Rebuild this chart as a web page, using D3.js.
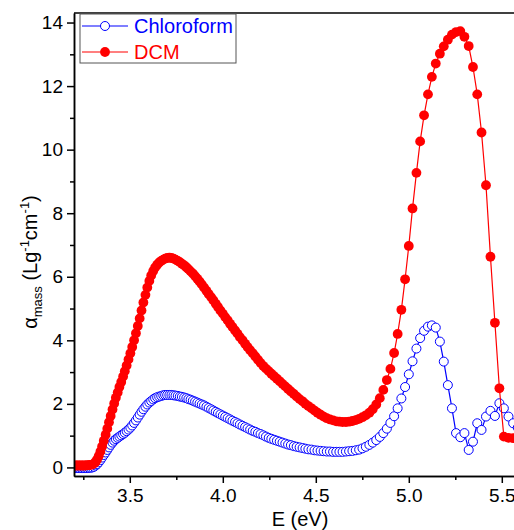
<!DOCTYPE html>
<html>
<head>
<meta charset="utf-8">
<script src="https://cdn.jsdelivr.net/npm/d3@7"></script>
<style>
  html, body { margin: 0; padding: 0; background: #fff; }
  svg { display: block; font-family: "Liberation Sans", Arial, sans-serif; }
</style>
</head>
<body>
<svg class="absorption-chart" width="514" height="530"></svg>
<script>
// photon energy (eV), one point per nm
var energy = [
  3.196, 3.204, 3.212, 3.221, 3.229, 3.238, 3.246, 3.255, 3.263, 3.272,
  3.280, 3.289, 3.298, 3.307, 3.316, 3.324, 3.333, 3.342, 3.351, 3.360,
  3.370, 3.379, 3.388, 3.397, 3.407, 3.416, 3.425, 3.435, 3.444, 3.454,
  3.464, 3.473, 3.483, 3.493, 3.503, 3.513, 3.523, 3.533, 3.543, 3.553,
  3.563, 3.573, 3.584, 3.594, 3.605, 3.615, 3.626, 3.636, 3.647, 3.658,
  3.669, 3.680, 3.690, 3.701, 3.713, 3.724, 3.735, 3.746, 3.758, 3.769,
  3.780, 3.792, 3.804, 3.815, 3.827, 3.839, 3.851, 3.863, 3.875, 3.887,
  3.899, 3.912, 3.924, 3.937, 3.949, 3.962, 3.974, 3.987, 4.000, 4.013,
  4.026, 4.039, 4.052, 4.066, 4.079, 4.092, 4.106, 4.120, 4.133, 4.147,
  4.161, 4.175, 4.189, 4.203, 4.218, 4.232, 4.247, 4.261, 4.276, 4.291,
  4.306, 4.321, 4.336, 4.351, 4.366, 4.382, 4.397, 4.413, 4.429, 4.444,
  4.460, 4.477, 4.493, 4.509, 4.526, 4.542, 4.559, 4.576, 4.593, 4.610,
  4.627, 4.644, 4.662, 4.679, 4.697, 4.715, 4.733, 4.751, 4.769, 4.788,
  4.806, 4.825, 4.844, 4.863, 4.882, 4.901, 4.921, 4.940, 4.960, 4.980,
  5.000, 5.020, 5.041, 5.061, 5.082, 5.103, 5.124, 5.145, 5.167, 5.188,
  5.210, 5.232, 5.254, 5.277, 5.299, 5.322, 5.345, 5.368, 5.391, 5.415,
  5.439, 5.463, 5.487, 5.511, 5.536, 5.561, 5.586
];

var chloroform = [
  -0.02, -0.02, -0.02, -0.02, -0.02, -0.02, -0.02, -0.02, -0.02, -0.02,
  -0.01, -0.01, 0.00, 0.02, 0.06, 0.10, 0.16, 0.23, 0.31, 0.39,
  0.47, 0.55, 0.63, 0.71, 0.78, 0.84, 0.89, 0.93, 0.97, 1.01,
  1.05, 1.09, 1.14, 1.19, 1.25, 1.32, 1.40, 1.48, 1.57, 1.66,
  1.75, 1.83, 1.91, 1.98, 2.04, 2.09, 2.14, 2.18, 2.21, 2.23,
  2.25, 2.27, 2.28, 2.28, 2.28, 2.28, 2.27, 2.26, 2.25, 2.23,
  2.22, 2.20, 2.18, 2.15, 2.13, 2.10, 2.07, 2.04, 2.01, 1.98,
  1.95, 1.91, 1.87, 1.83, 1.79, 1.75, 1.71, 1.67, 1.63, 1.59,
  1.55, 1.51, 1.47, 1.43, 1.39, 1.35, 1.31, 1.27, 1.23, 1.19,
  1.15, 1.12, 1.08, 1.05, 1.01, 0.97, 0.93, 0.90, 0.87, 0.84,
  0.81, 0.78, 0.75, 0.72, 0.70, 0.67, 0.65, 0.63, 0.61, 0.59,
  0.57, 0.56, 0.54, 0.53, 0.52, 0.51, 0.50, 0.50, 0.49, 0.49,
  0.49, 0.49, 0.50, 0.51, 0.52, 0.54, 0.56, 0.60, 0.65, 0.71,
  0.78, 0.86, 0.96, 1.08, 1.22, 1.40, 1.61, 1.86, 2.17, 2.53,
  2.93, 3.34, 3.74, 4.07, 4.30, 4.43, 4.47, 4.40, 3.96, 3.33,
  2.59, 1.86, 1.08, 0.95, 1.08, 0.55, 0.81, 1.39, 1.18, 1.60,
  1.78, 1.62, 2.02, 1.86, 1.60, 1.39, 1.25
];

var dcm = [
  0.06, 0.06, 0.06, 0.06, 0.06, 0.06, 0.06, 0.06, 0.06, 0.07,
  0.07, 0.08, 0.09, 0.12, 0.17, 0.25, 0.36, 0.50, 0.66, 0.84,
  1.03, 1.22, 1.42, 1.62, 1.82, 2.01, 2.19, 2.36, 2.53, 2.69,
  2.86, 3.03, 3.21, 3.40, 3.59, 3.79, 4.00, 4.22, 4.45, 4.69,
  4.94, 5.19, 5.43, 5.66, 5.87, 6.04, 6.18, 6.29, 6.38, 6.45,
  6.50, 6.54, 6.57, 6.59, 6.60, 6.59, 6.57, 6.54, 6.50, 6.46,
  6.41, 6.36, 6.30, 6.24, 6.17, 6.10, 6.02, 5.94, 5.85, 5.76,
  5.66, 5.56, 5.46, 5.36, 5.26, 5.15, 5.05, 4.94, 4.84, 4.73,
  4.63, 4.52, 4.42, 4.31, 4.21, 4.10, 4.00, 3.89, 3.79, 3.69,
  3.59, 3.49, 3.39, 3.29, 3.19, 3.11, 3.03, 2.95, 2.87, 2.79,
  2.71, 2.63, 2.55, 2.47, 2.39, 2.31, 2.23, 2.15, 2.08, 2.00,
  1.93, 1.86, 1.79, 1.72, 1.66, 1.60, 1.55, 1.51, 1.48, 1.45,
  1.44, 1.43, 1.43, 1.44, 1.46, 1.49, 1.53, 1.58, 1.64, 1.72,
  1.83, 1.98, 2.18, 2.44, 2.75, 3.10, 3.60, 4.20, 4.96, 5.92,
  6.97, 8.15, 9.27, 10.26, 11.08, 11.74, 12.29, 12.71, 13.02, 13.25,
  13.46, 13.62, 13.70, 13.73, 13.55, 13.26, 12.60, 11.74, 10.54, 8.88,
  6.63, 4.55, 2.49, 0.97, 0.93, 0.92, 0.92
];

var seriesNames = ['Chloroform', 'DCM'];
var xMajorTicks = [3.5, 4.0, 4.5, 5.0, 5.5];
var xMinorTicks = [3.25, 3.75, 4.25, 4.75, 5.25];
var yMajorTicks = [0, 2, 4, 6, 8, 10, 12, 14];
var yMinorTicks = [1, 3, 5, 7, 9, 11, 13];

(function AbsorptionChart() {

  'use strict';

  // vars
  var _svg,
    _x,
    _y,
    _left = 74,
    _right = 539,
    _top = 13,
    _bottom = 476,
    _blue = '#0000ff',
    _red = '#ff0000';

  activate();

  function activate() {
    _svg = d3.select('.absorption-chart');

    _x = d3.scaleLinear().domain([3.2, 5.7]).range([_left, _right]);
    _y = d3.scaleLinear().domain([-0.27, 14.3]).range([_bottom, _top]);

    _svg.append('defs')
      .append('clipPath')
      .attr('id', 'plot-clip')
      .append('rect')
      .attr('x', _left)
      .attr('y', _top)
      .attr('width', _right - _left)
      .attr('height', _bottom - _top);

    renderSeries(chloroform, _blue, false);
    renderSeries(dcm, _red, true);
    renderAxes();
    renderLegend();
  }

  function renderSeries(values, color, filled) {
    var points = energy.map(function (e, i) { return [e, values[i]]; });
    var g = _svg.append('g').attr('clip-path', 'url(#plot-clip)');

    var line = d3.line()
      .x(function (d) { return _x(d[0]); })
      .y(function (d) { return _y(d[1]); });

    g.append('path')
      .datum(points)
      .attr('d', line)
      .attr('fill', 'none')
      .attr('stroke', color)
      .attr('stroke-width', 1.2);

    g.selectAll('circle')
      .data(points)
      .enter()
      .append('circle')
      .attr('cx', function (d) { return _x(d[0]); })
      .attr('cy', function (d) { return _y(d[1]); })
      .attr('r', filled ? 4.9 : 4.5)
      .attr('fill', filled ? color : '#fff')
      .attr('stroke', filled ? 'none' : color)
      .attr('stroke-width', 1);
  }

  function renderAxes() {
    var xAxis = _svg.append('g')
      .attr('transform', 'translate(0,' + _bottom + ')')
      .call(d3.axisBottom(_x)
        .tickValues(xMajorTicks)
        .tickFormat(d3.format('.1f'))
        .tickSize(7)
        .tickSizeOuter(0)
        .tickPadding(6));

    _svg.append('g')
      .attr('transform', 'translate(0,' + _bottom + ')')
      .call(d3.axisBottom(_x)
        .tickValues(xMinorTicks)
        .tickFormat('')
        .tickSize(4)
        .tickSizeOuter(0));

    var yAxis = _svg.append('g')
      .attr('transform', 'translate(' + _left + ',0)')
      .call(d3.axisLeft(_y)
        .tickValues(yMajorTicks)
        .tickSize(7)
        .tickSizeOuter(0)
        .tickPadding(4));

    _svg.append('g')
      .attr('transform', 'translate(' + _left + ',0)')
      .call(d3.axisLeft(_y)
        .tickValues(yMinorTicks)
        .tickFormat('')
        .tickSize(4)
        .tickSizeOuter(0));

    // top frame line
    _svg.append('line')
      .attr('x1', _left)
      .attr('x2', _right)
      .attr('y1', _top)
      .attr('y2', _top)
      .attr('stroke', '#000')
      .attr('stroke-width', 1.5);

    _svg.selectAll('.domain, .tick line')
      .attr('stroke', '#000')
      .attr('stroke-width', 1.5);

    [xAxis, yAxis].forEach(function (axis) {
      axis.selectAll('text')
        .attr('fill', '#000')
        .style('font-size', '19px')
        .style('font-family', '"Liberation Sans", Arial, sans-serif');
    });

    // axis titles
    _svg.append('text')
      .attr('x', 300)
      .attr('y', 526)
      .attr('text-anchor', 'middle')
      .style('font-size', '20px')
      .text('E (eV)');

    var title = _svg.append('text')
      .attr('transform', 'translate(37,262) rotate(-90)')
      .attr('text-anchor', 'middle')
      .style('font-size', '20px');
    title.append('tspan').text('\u03b1');
    title.append('tspan').attr('dy', 5).style('font-size', '13px').text('mass');
    title.append('tspan').attr('dy', -5).text(' (Lg');
    title.append('tspan').attr('dy', -8).style('font-size', '13px').text('-1');
    title.append('tspan').attr('dy', 8).text('cm');
    title.append('tspan').attr('dy', -8).style('font-size', '13px').text('-1');
    title.append('tspan').attr('dy', 8).text(')');
  }

  function renderLegend() {
    var legend = _svg.append('g');
    var colors = [_blue, _red];

    legend.append('rect')
      .attr('x', 80)
      .attr('y', 14)
      .attr('width', 156)
      .attr('height', 49)
      .attr('fill', '#fff')
      .attr('stroke', '#555')
      .attr('stroke-width', 1);

    seriesNames.forEach(function (name, i) {
      var cy = 26 + i * 26;
      legend.append('line')
        .attr('x1', 82)
        .attr('x2', 128)
        .attr('y1', cy)
        .attr('y2', cy)
        .attr('stroke', colors[i])
        .attr('stroke-width', 1.2);
      legend.append('circle')
        .attr('cx', 105)
        .attr('cy', cy)
        .attr('r', i === 0 ? 4.5 : 4.9)
        .attr('fill', i === 0 ? '#fff' : colors[i])
        .attr('stroke', i === 0 ? colors[i] : 'none');
      legend.append('text')
        .attr('x', 134)
        .attr('y', cy + 7)
        .attr('fill', colors[i])
        .style('font-size', '20px')
        .text(name);
    });
  }

})();
</script>
</body>
</html>
